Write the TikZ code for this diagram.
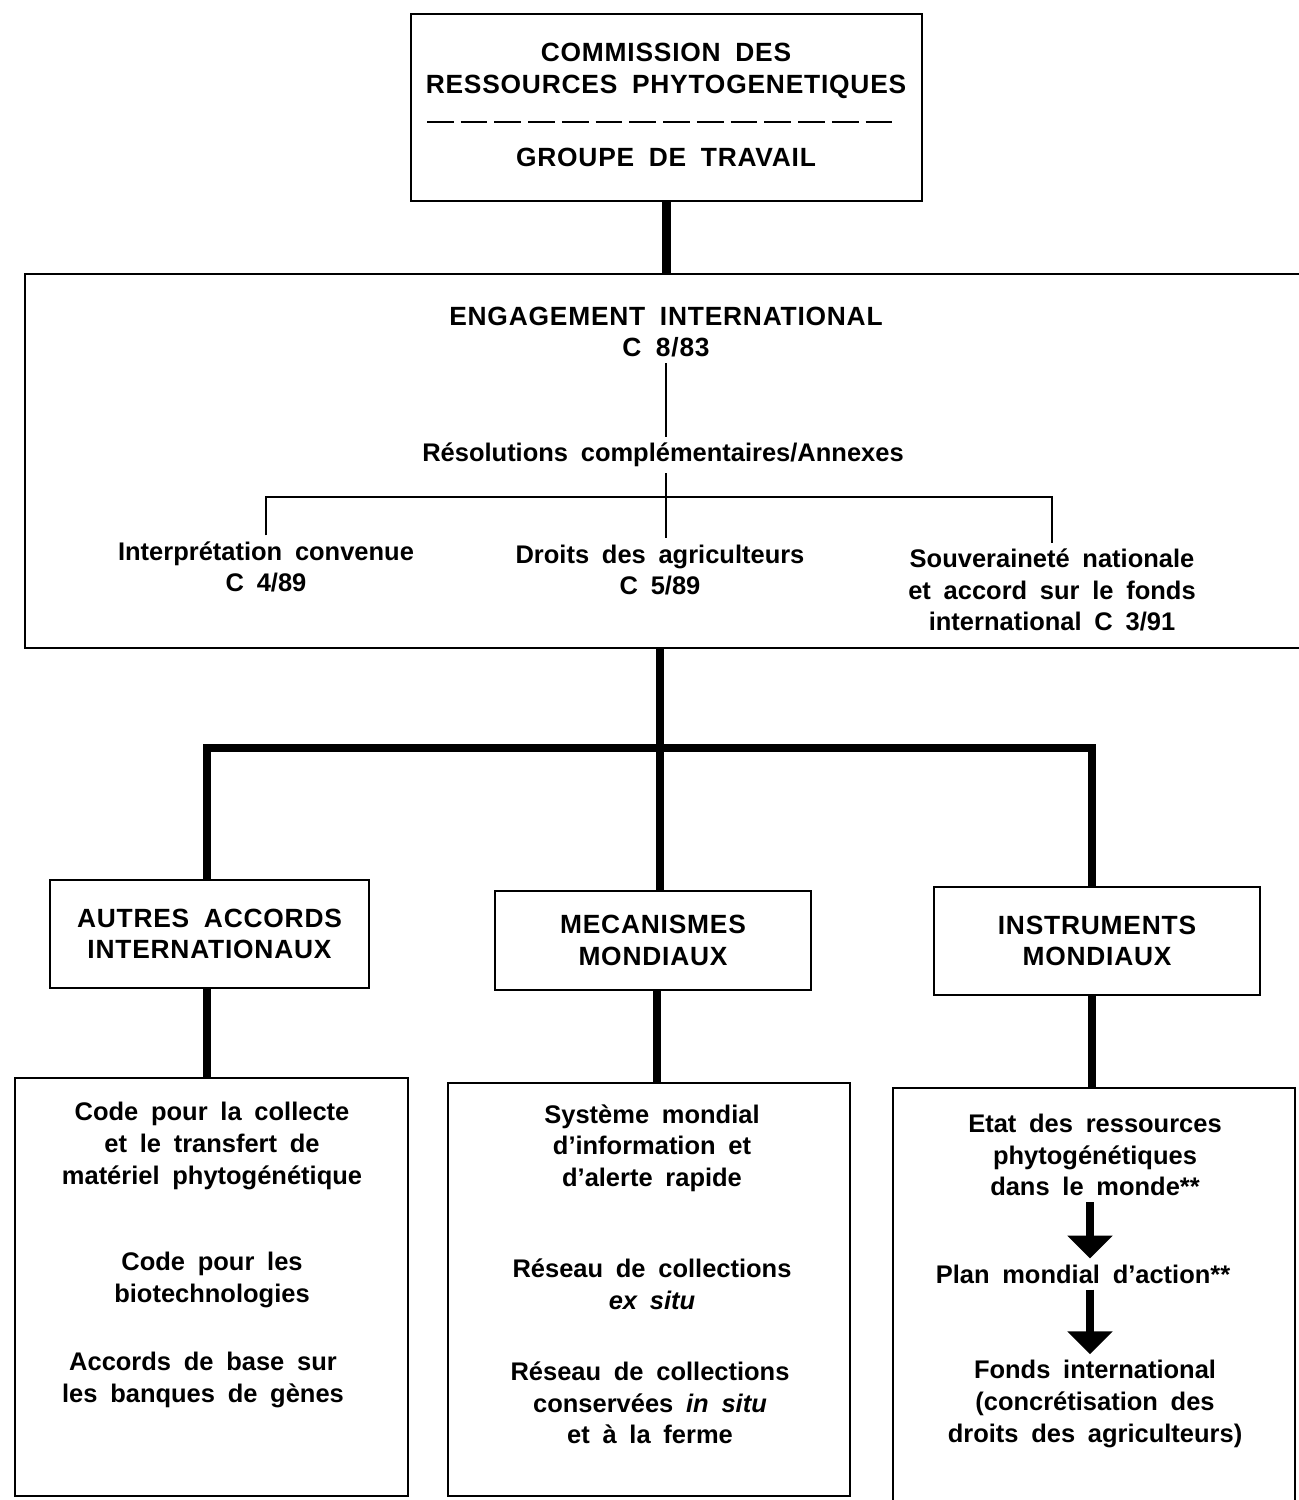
\documentclass[tikz,border=0pt]{standalone}
\usepackage{fontspec}
\setmainfont[WordSpace=1.8]{Liberation Sans}
\newfontfamily\capsfont[LetterSpace=3,WordSpace=1.8]{Liberation Sans}
\usetikzlibrary{arrows.meta}

\begin{document}
\begin{tikzpicture}[x=0.02cm,y=-0.02cm,
    box/.style={draw,line width=1.1pt,inner sep=0pt},
    caps/.style={font=\capsfont\bfseries\fontsize{15}{18}\selectfont,align=center},
    txt/.style={font=\bfseries\fontsize{14.5}{18}\selectfont,align=center},
    link/.style={line width=4.6pt},
    thinlink/.style={line width=0.8pt},
    bigarrow/.style={line width=5pt,-{Triangle[width=25pt,length=13pt]}}]
        \useasboundingbox (0,0) rectangle (1298,1500);
        % \draw[help lines,step=50] (0,0) grid (1298,1500);
        % commission
        \node[box,minimum width=10.22cm,minimum height=3.74cm] (top) at (666.5,107.5) {};
        \node[caps] (comm) at (666,71) {COMMISSION DES\\RESSOURCES PHYTOGENETIQUES};
        \draw[line width=1.1pt,dash pattern=on 15.2pt off 4pt] (427,122) -- (894,122);
        \node[caps] (groupe) at (666,157) {GROUPE DE TRAVAIL};
        % engagement
        \node[box,minimum width=25.74cm,minimum height=7.48cm] (engbox) at (668.5,461) {};
        \draw[link] (top.south) -- (top.south |- engbox.north);
        \node[caps] (eng) at (666,332) {ENGAGEMENT INTERNATIONAL\\C 8/83};
        \node[txt] (resol) at (663,455) {Résolutions complémentaires/Annexes};
        \node[txt] (interp) at (266,567) {Interprétation convenue\\C 4/89};
        \node[txt] (droits) at (660,570) {Droits des agriculteurs\\C 5/89};
        \node[txt] (souv) at (1052,590) {Souveraineté nationale\\et accord sur le fonds\\international C 3/91};
        \coordinate (fork) at (666,497);
        \draw[thinlink] (eng) -- (eng |- resol.north);
        \draw[thinlink] (resol.south -| fork) -- (fork |- droits.north);
        \draw[thinlink] (interp.north) -- (interp.north |- fork) -- (souv.north |- fork) -- (souv.north);
        % mondial
        \node[box,caps,minimum width=6.38cm,minimum height=2.16cm] (autres) at (209.5,934) {AUTRES ACCORDS\\INTERNATIONAUX};
        \node[box,caps,minimum width=6.32cm,minimum height=1.98cm] (meca) at (653,940.5) {MECANISMES\\MONDIAUX};
        \node[box,caps,minimum width=6.52cm,minimum height=2.16cm] (instr) at (1097,941) {INSTRUMENTS\\MONDIAUX};
        \coordinate (hub) at (660,748);
        \coordinate (hl) at (207,748);
        \coordinate (hr) at (1092,748);
        \draw[link] (hub |- engbox.south) -- (hub |- meca.north);
        \draw[link] (hl |- autres.north) -- (hl) -- (hr) -- (hr |- instr.north);
        % listes
        \node[box,minimum width=7.86cm,minimum height=8.36cm] (codes) at (211.5,1287) {};
        \node[box,minimum width=8.04cm,minimum height=8.26cm] (sys) at (649,1289.5) {};
        \node[box,minimum width=8.04cm,minimum height=8.44cm] (etat) at (1094,1299) {};
        \draw[link] (hl |- autres.south) -- (hl |- codes.north);
        \draw[link] (657,0 |- meca.south) -- (657,0 |- sys.north);
        \draw[link] (hr |- instr.south) -- (hr |- etat.north);
        \node[txt] (c1) at (212,1146) {Code pour la collecte\\et le transfert de\\matériel phytogénétique};
        \node[txt] (c2) at (212,1280) {Code pour les\\biotechnologies};
        \node[txt] (c3) at (203,1380) {Accords de base sur\\les banques de gènes};
        \node[txt] (s1) at (652,1148) {Système mondial\\d'information et\\d'alerte rapide};
        \node[txt] (s2) at (652,1284) {Réseau de collections\\\textit{ex situ}};
        \node[txt] (s3) at (650,1403) {Réseau de collections\\conservées \textit{in situ}\\et à la ferme};
        \node[txt] (e1) at (1095,1155) {Etat des ressources\\phytogénétiques\\dans le monde**};
        \node[txt] (e2) at (1083,1274) {Plan mondial d'action**};
        \node[txt] (e3) at (1095,1404) {Fonds international\\(concrétisation des\\droits des agriculteurs)};
        \draw[bigarrow] (1090,0 |- e1.south) -- (1090,0 |- e2.north);
        \draw[bigarrow] (1090,0 |- e2.south) -- (1090,0 |- e3.north);
\end{tikzpicture}
\end{document}
